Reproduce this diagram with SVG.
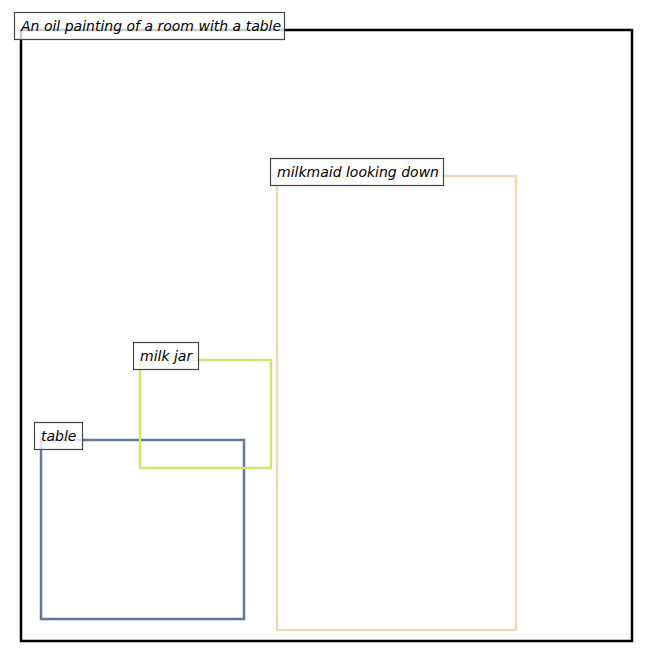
<svg xmlns="http://www.w3.org/2000/svg" width="659" height="659" viewBox="0 0 659 659">
<style>
.box{fill:none;stroke-width:2.5}
.lbl rect{fill:#fff;fill-opacity:0.8;stroke:#444;stroke-width:1.2}
.lbl text{font-family:"DejaVu Sans",sans-serif;font-style:italic;font-size:14px;fill:#000}
</style>
<rect width="659" height="659" fill="#fff"/>
<g id="painting">
<rect class="box" x="21" y="30" width="611" height="611" stroke="#000"/>
</g>
<g id="milkmaid">
<rect class="box" x="277" y="176" width="239" height="454" stroke="#ecdab8"/>
</g>
<g id="table">
<rect class="box" x="41" y="440" width="203" height="179" stroke="#6874a0"/>
</g>
<g id="milkjar">
<rect class="box" x="140" y="360" width="131" height="108" stroke="#c9e771"/>
</g>
<g id="labels">
<g class="lbl" id="label-painting"><rect x="14.5" y="12.5" width="270" height="27"/><text x="21" y="31">An oil painting of a room with a table</text></g>
<g class="lbl" id="label-milkmaid"><rect x="270.5" y="158.5" width="173" height="27"/><text x="277" y="177">milkmaid looking down</text></g>
<g class="lbl" id="label-milkjar"><rect x="133.5" y="342.5" width="65" height="27"/><text x="140" y="361">milk jar</text></g>
<g class="lbl" id="label-table"><rect x="34.5" y="422.5" width="48" height="27"/><text x="41" y="441">table</text></g>
</g>
</svg>
